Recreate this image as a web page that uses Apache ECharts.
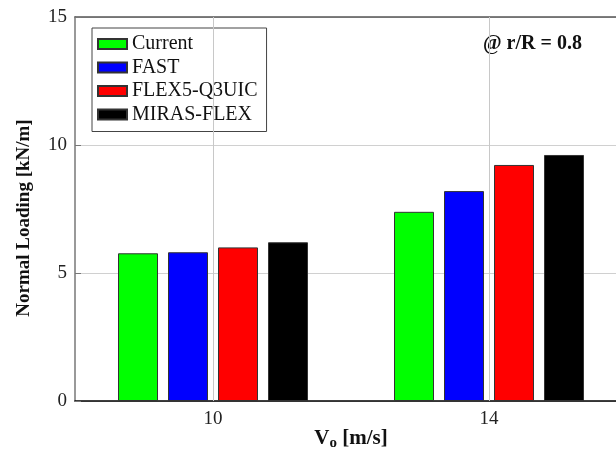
<!DOCTYPE html>
<html>
<head>
<meta charset="utf-8">
<style>
  html, body { margin: 0; padding: 0; background: #fff; }
  #chart { width: 616px; height: 455px; }
</style>
<script src="https://cdn.jsdelivr.net/npm/echarts@6/dist/echarts.min.js"></script>
</head>
<body>
<div id="chart"></div>
<script>
// Wind speeds (categories) and normal loading per model, kN/m
const windSpeeds = ['10', '14'];
const currentLoad = [5.77, 7.39];
const fastLoad = [5.81, 8.20];
const flexLoad = [6.00, 9.22];
const mirasLoad = [6.20, 9.61];
const yTicks = [0, 5, 10, 15];

const seriesNames = ['Current', 'FAST', 'FLEX5-Q3UIC', 'MIRAS-FLEX'];
const seriesData = [currentLoad, fastLoad, flexLoad, mirasLoad];
const seriesColors = ['#00ff00', '#0000ff', '#ff0000', '#000000'];

const FONT = '"Liberation Serif", "Times New Roman", serif';

const chart = echarts.init(document.getElementById('chart'), null, { renderer: 'canvas' });

const series = seriesNames.map((name, i) => ({
  name: name,
  type: 'bar',
  data: seriesData[i],
  barWidth: 40,
  barGap: '25%',
  itemStyle: { color: seriesColors[i], borderColor: '#333', borderWidth: 1 },
  emphasis: { disabled: true }
}));

// vertical grid lines through each wind speed (empty line series, so no bar offset)
series.push({
  type: 'line',
  data: [],
  silent: true,
  z: 1,
  markLine: {
    silent: true,
    symbol: 'none',
    label: { show: false },
    lineStyle: { color: '#c8c8c8', width: 1, type: 'solid' },
    data: windSpeeds.map((w, idx) => ({ xAxis: idx })),
    animation: false
  }
});

chart.setOption({
  animation: false,
  textStyle: { fontFamily: FONT },
  // the plot runs slightly past the right edge of the canvas
  grid: { left: 75, top: 17, width: 552, bottom: 54, outerBoundsMode: 'none' },
  legend: {
    left: 92,
    top: 28,
    orient: 'vertical',
    data: seriesNames,
    icon: 'rect',
    itemWidth: 29,
    itemHeight: 10,
    itemGap: 3.5,
    padding: [6, 9, 7, 5],
    borderColor: '#444',
    borderWidth: 1,
    backgroundColor: '#fff',
    textStyle: { fontFamily: FONT, fontSize: 20, color: '#111', lineHeight: 20 }
  },
  graphic: [{
    type: 'text',
    left: 483,
    top: 34,
    style: {
      text: '@ r/R = 0.8',
      font: 'bold 20px ' + FONT,
      fill: '#111'
    }
  }],
  xAxis: [{
    type: 'category',
    data: windSpeeds,
    position: 'bottom',
    axisLine: { lineStyle: { color: '#000', width: 1.5 } },
    axisTick: { alignWithLabel: true, inside: true, length: 6, lineStyle: { color: '#888' } },
    axisLabel: { fontFamily: FONT, fontSize: 19, color: '#222', margin: 9 },
    splitLine: { show: false },
    name: '{v|V}{sub|o}{v| [m/s]}',
    nameLocation: 'middle',
    nameGap: 26,
    nameMoveOverlap: false,
    nameTextStyle: {
      rich: {
        v: { fontFamily: FONT, fontSize: 21, fontWeight: 'bold', color: '#111' },
        sub: { fontFamily: FONT, fontSize: 15, fontWeight: 'bold', color: '#111', verticalAlign: 'bottom', padding: [9, 0, 0, 0] }
      }
    }
  }, {
    type: 'category',
    data: windSpeeds,
    position: 'top',
    axisLine: { show: true, lineStyle: { color: '#555', width: 1.5 } },
    axisTick: { alignWithLabel: true, inside: true, length: 6, lineStyle: { color: '#888' } },
    axisLabel: { show: false },
    splitLine: { show: false }
  }],
  yAxis: {
    type: 'value',
    min: 0,
    max: 15,
    interval: 5,
    axisLine: { show: true, lineStyle: { color: '#777', width: 1.5 } },
    axisTick: { show: true, inside: true, length: 6, lineStyle: { color: '#777' } },
    axisLabel: {
      fontFamily: FONT, fontSize: 19, color: '#222', margin: 8,
      formatter: v => (yTicks.indexOf(v) >= 0 ? String(v) : '')
    },
    splitLine: { show: true, lineStyle: { color: '#d0d0d0', width: 1 } },
    name: 'Normal Loading [kN/m]',
    nameLocation: 'middle',
    nameGap: 41,
    nameMoveOverlap: false,
    nameTextStyle: { fontFamily: FONT, fontSize: 19, fontWeight: 'bold', color: '#111', padding: [0, 18, 0, 0] }
  },
  series: series
});
</script>
</body>
</html>
